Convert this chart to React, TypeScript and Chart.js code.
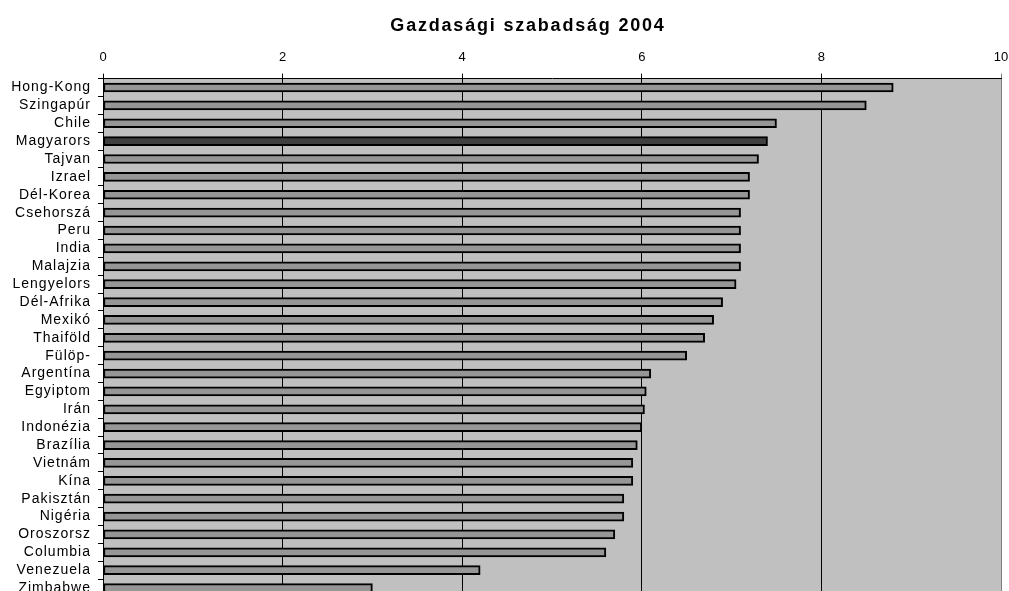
import React, { useEffect, useRef } from "react";
import { Chart, registerables } from "chart.js";

Chart.register(...registerables);

const categories = [
  "Hong-Kong", "Szingapúr", "Chile", "Magyarors", "Tajvan", "Izrael", "Dél-Korea",
  "Csehorszá", "Peru", "India", "Malajzia", "Lengyelors", "Dél-Afrika", "Mexikó",
  "Thaiföld", "Fülöp-", "Argentína", "Egyiptom", "Irán", "Indonézia", "Brazília",
  "Vietnám", "Kína", "Pakisztán", "Nigéria", "Oroszorsz", "Columbia", "Venezuela", "Zimbabwe",
];

const values = [
  8.8, 8.5, 7.5, 7.4, 7.3, 7.2, 7.2,
  7.1, 7.1, 7.1, 7.1, 7.05, 6.9, 6.8,
  6.7, 6.5, 6.1, 6.05, 6.03, 6.0, 5.95,
  5.9, 5.9, 5.8, 5.8, 5.7, 5.6, 4.2, 3.0,
];

const xTicks = [0, 2, 4, 6, 8, 10];
const chartTitle = "Gazdasági szabadság 2004";
const highlighted = "Magyarors";

const FONT = "'Liberation Sans', Arial, sans-serif";

const plotBg = {
  id: "plotBg",
  beforeDraw(chart: any) {
    const { ctx, chartArea } = chart;
    ctx.save();
    ctx.fillStyle = "#c0c0c0";
    ctx.fillRect(chartArea.left, chartArea.top, chartArea.right - chartArea.left, chartArea.bottom - chartArea.top);
    ctx.restore();
  },
};

const titlePlugin = {
  id: "customTitle",
  afterDraw(chart: any) {
    const { ctx } = chart;
    ctx.save();
    ctx.font = `bold 18px ${FONT}`;
    ctx.fillStyle = "#000";
    ctx.textAlign = "center";
    ctx.textBaseline = "middle";
    ctx.fillText(chartTitle, 528, 26);
    ctx.restore();
  },
};

function spacingFor(font: string): string {
  if (font.includes("bold")) return "1.8px";
  if (font.includes("14px")) return "1px";
  return "0px";
}

export default function App() {
  const ref = useRef<HTMLCanvasElement>(null);
  useEffect(() => {
    const canvas = ref.current!;
    const c2d: any = canvas.getContext("2d");
    const origFill = c2d.fillText;
    const origMeasure = c2d.measureText;
    c2d.fillText = function (t: string, x: number, y: number, mw?: number) {
      this.letterSpacing = spacingFor(this.font);
      return mw === undefined ? origFill.call(this, t, x, y) : origFill.call(this, t, x, y, mw);
    };
    c2d.measureText = function (t: string) {
      this.letterSpacing = spacingFor(this.font);
      return origMeasure.call(this, t);
    };
    const chart = new Chart(canvas, {
      type: "bar",
      data: {
        labels: categories,
        datasets: [
          {
            data: values,
            backgroundColor: categories.map((c) => (c === highlighted ? "#404040" : "#969696")),
            borderColor: "#000000",
            borderWidth: 2,
            borderSkipped: false,
            barThickness: 9,
          },
        ],
      },
      options: {
        indexAxis: "y",
        animation: false,
        responsive: true,
        maintainAspectRatio: false,
        layout: { padding: { left: 0, right: 8, top: 42, bottom: 0 } },
        plugins: {
          legend: { display: false },
          tooltip: { enabled: false },
          title: { display: false },
        },
        scales: {
          x: {
            position: "top",
            min: 0,
            max: 10,
            afterBuildTicks: (axis: any) => {
              axis.ticks = xTicks.map((v) => ({ value: v }));
            },
            afterFit: (axis: any) => {
              axis.paddingLeft = 0;
              axis.paddingRight = 0;
            },
            ticks: {
              color: "#000",
              font: { family: FONT, size: 13 },
              padding: 8,
            },
            grid: {
              color: (ctx: any) => (ctx.tick && ctx.tick.value === 10 ? "#808080" : "#000000"),
              lineWidth: 1,
              tickLength: 5,
            },
            border: { color: "#000", width: 1 },
          },
          y: {
            afterFit: (axis: any) => {
              axis.width = 103;
              axis.paddingTop = 0;
              axis.paddingBottom = 0;
            },
            ticks: {
              autoSkip: false,
              color: "#000",
              font: { family: FONT, size: 14 },
              padding: 7,
            },
            grid: {
              drawOnChartArea: false,
              drawTicks: true,
              tickLength: 5,
              color: "#000",
              offset: true,
            },
            border: { color: "#000", width: 1 },
          },
        },
      },
      plugins: [plotBg, titlePlugin],
    });
    return () => chart.destroy();
  }, []);
  return (
    <div style={{ position: "fixed", left: 0, top: 0, width: 1009, height: 597 }}>
      <canvas ref={ref} />
    </div>
  );
}
